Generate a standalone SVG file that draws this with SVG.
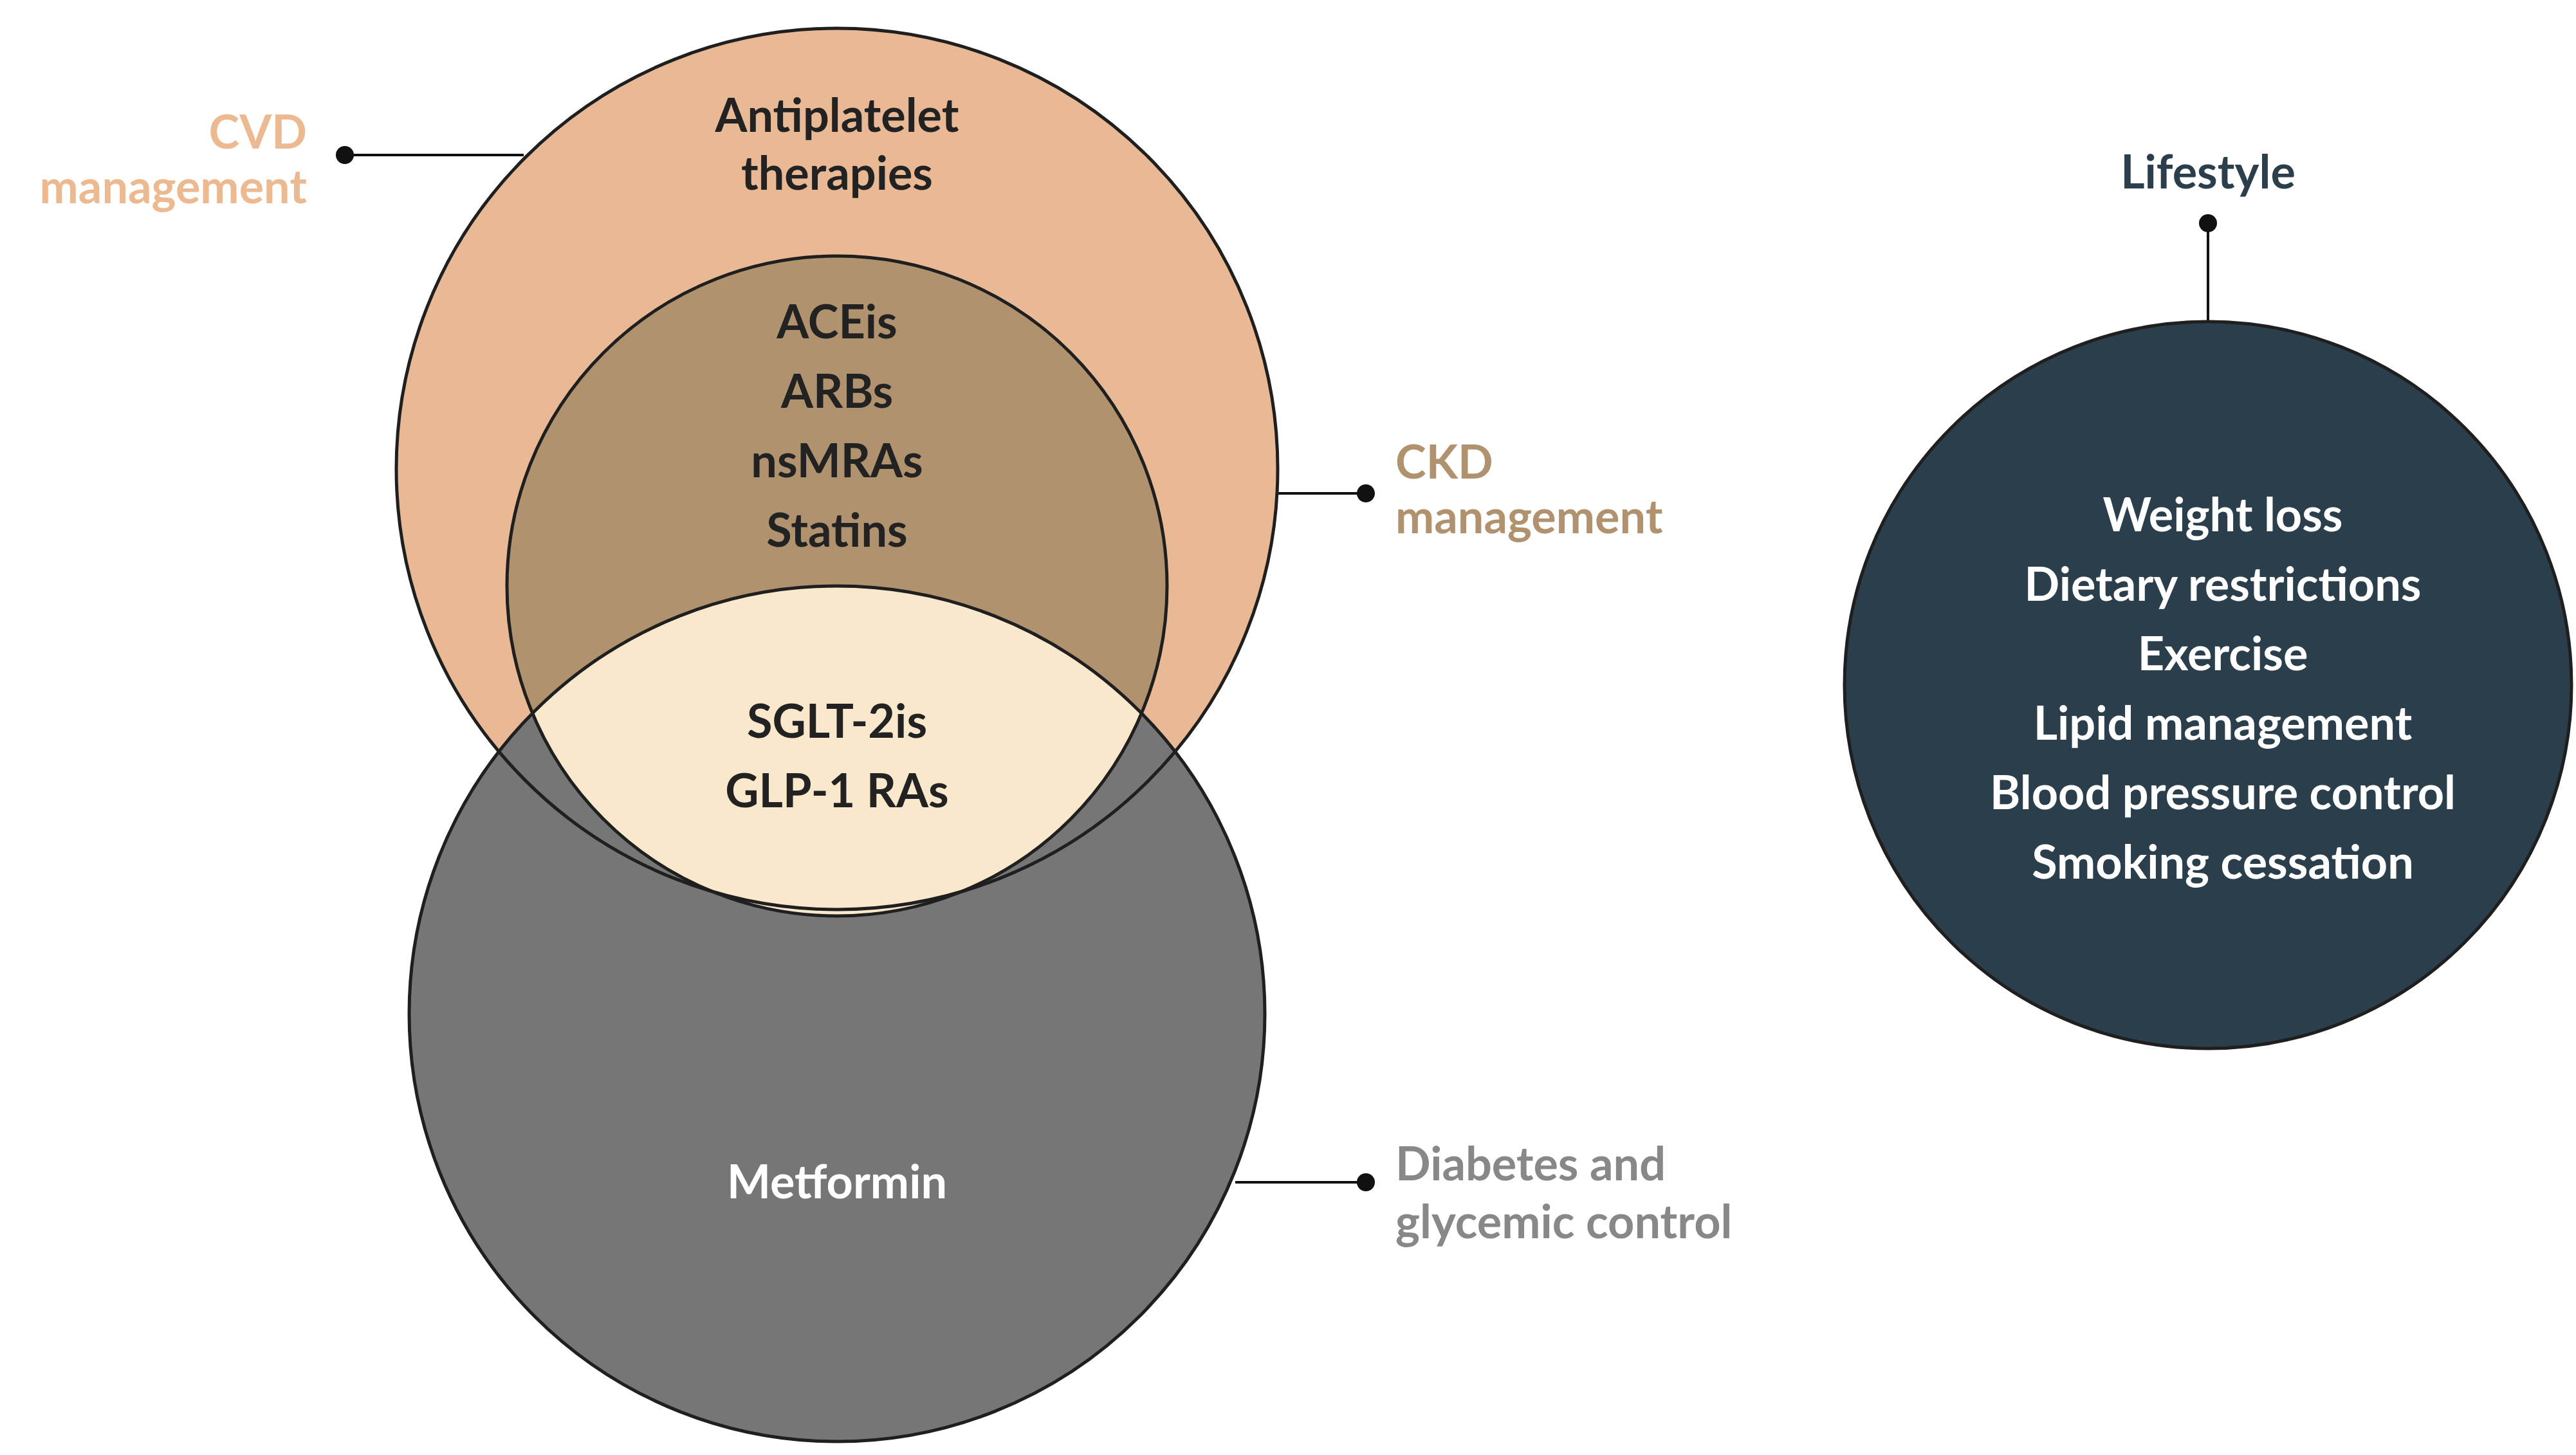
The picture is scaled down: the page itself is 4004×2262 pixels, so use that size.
<svg xmlns="http://www.w3.org/2000/svg" width="4004" height="2262" viewBox="0 0 4004 2262">
<style>
text{font-family:Lato,"Open Sans","Liberation Sans",sans-serif;font-weight:700;font-size:72px;text-anchor:middle}
.dk{fill:#222}
.wh{fill:#fff}
.ol{fill:none;stroke:#1f1f1f;stroke-width:5}
.ln{stroke:#111;stroke-width:4;fill:none}
.dot{fill:#111}
.lbl{text-anchor:start}
</style>
<defs>
<clipPath id="dclip"><circle cx="1301" cy="1576" r="665"/></clipPath>
</defs>
<rect width="4004" height="2262" fill="#fff"/>
<g id="connectors">
<line class="ln" x1="536" y1="241" x2="814" y2="241"/><circle class="dot" cx="536" cy="241" r="14"/>
<line class="ln" x1="1797" y1="767" x2="2123" y2="767"/><circle class="dot" cx="2123" cy="767" r="14"/>
<line class="ln" x1="1920" y1="1838" x2="2123" y2="1838"/><circle class="dot" cx="2123" cy="1838" r="14"/>
<line class="ln" x1="3432" y1="347" x2="3432" y2="503"/><circle class="dot" cx="3432" cy="347" r="14"/>
</g>
<g id="cvd">
<circle cx="1301" cy="729" r="685" fill="#E9B996"/>
</g>
<g id="diabetes">
<circle cx="1301" cy="1576" r="665" fill="#767676"/>
</g>
<g id="ckd">
<circle cx="1301" cy="911" r="513" fill="#B0936E"/>
<circle cx="1301" cy="911" r="513" fill="#F9E8CB" clip-path="url(#dclip)"/>
</g>
<g id="outlines">
<circle class="ol" cx="1301" cy="729" r="685"/>
<circle class="ol" cx="1301" cy="1576" r="665"/>
<circle class="ol" cx="1301" cy="911" r="513"/>
</g>
<g id="lifestyle">
<circle cx="3432" cy="1065" r="565" fill="#2A3F4B" stroke="#1f1f1f" stroke-width="5"/>
<text class="wh" x="3455" y="826">Weight loss</text>
<text class="wh" x="3455" y="934">Dietary restrictions</text>
<text class="wh" x="3455" y="1042">Exercise</text>
<text class="wh" x="3455" y="1150">Lipid management</text>
<text class="wh" x="3455" y="1258">Blood pressure control</text>
<text class="wh" x="3455" y="1366">Smoking cessation</text>
</g>
<g id="texts">
<text class="dk" x="1301" y="205">Antiplatelet</text>
<text class="dk" x="1301" y="295">therapies</text>
<text class="dk" x="1301" y="526">ACEis</text>
<text class="dk" x="1301" y="634">ARBs</text>
<text class="dk" x="1301" y="742">nsMRAs</text>
<text class="dk" x="1301" y="850">Statins</text>
<text class="dk" x="1301" y="1147">SGLT-2is</text>
<text class="dk" x="1301" y="1255">GLP-1 RAs</text>
<text class="wh" x="1301" y="1863">Metformin</text>
</g>
<g id="labels">
<text x="477" y="231" fill="#EDB991" style="text-anchor:end">CVD</text>
<text x="477" y="316" fill="#EDB991" style="text-anchor:end">management</text>
<text class="lbl" x="2169" y="744" fill="#B0936E">CKD</text>
<text class="lbl" x="2169" y="829" fill="#B0936E">management</text>
<text class="lbl" x="2169" y="1835" fill="#888">Diabetes and</text>
<text class="lbl" x="2169" y="1925" fill="#888">glycemic control</text>
<text x="3432" y="293" fill="#2A3F4B">Lifestyle</text>
</g>
</svg>
